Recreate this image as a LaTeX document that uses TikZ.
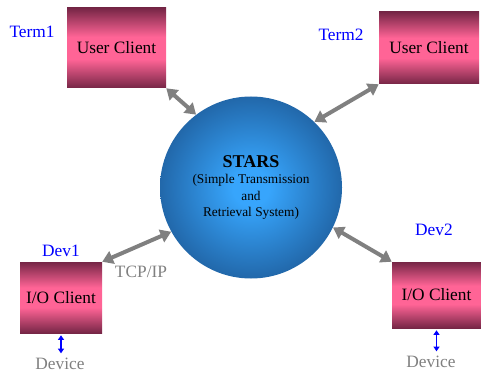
\documentclass[tikz,border=0pt]{standalone}
\usepackage{fontspec}
\setmainfont{Liberation Serif}
\usepackage{xcolor}
\usetikzlibrary{arrows.meta,positioning}

\definecolor{boxdark}{RGB}{118,38,70}
\definecolor{boxpink}{RGB}{255,100,150}
\definecolor{starsin}{RGB}{55,165,252}
\definecolor{starsout}{RGB}{22,70,125}
\definecolor{linkgray}{RGB}{128,128,128}

\pgfdeclareverticalshading{clientshade}{100bp}{color(0bp)=(boxdark); color(25bp)=(boxdark);
  color(43bp)=(boxpink); color(57bp)=(boxpink); color(75bp)=(boxdark); color(100bp)=(boxdark)}
\pgfdeclareradialshading{starsshade}{\pgfpoint{0bp}{0bp}}{color(0bp)=(starsin); color(5bp)=(starsin);
  color(36bp)=(starsout); color(50bp)=(starsout)}

\tikzset{
  client/.style={rectangle,shading=clientshade,
    inner sep=0pt,font=\fontsize{13}{15}\selectfont},
  hostname/.style={text=blue,font=\fontsize{13}{15}\selectfont},
  graylabel/.style={text=linkgray,font=\fontsize{13}{15}\selectfont},
  link/.style={line width=3pt,linkgray,{Triangle[length=8pt,width=10pt]}-{Triangle[length=8pt,width=10pt]}},
  devlink/.style={line width=1pt,blue,{Triangle[length=3.5pt,width=4.5pt]}-{Triangle[length=3.5pt,width=4.5pt]},shorten <=1.5pt}
}

\begin{document}
\begin{tikzpicture}[x=0.75pt,y=-0.75pt]
\useasboundingbox (0,0) rectangle (481,374);
% the server
\node[circle,shading=starsshade,minimum size=136.5pt,inner sep=0pt,
  align=center,font=\fontsize{10}{12.4}\selectfont] (stars) at (251,187.5)
  {{\fontsize{13.5}{16}\selectfont\bfseries STARS}\\(Simple Transmission\\and\\Retrieval System)};
% clients
\node[client,minimum width=74.25pt,minimum height=60pt] (t1) at (116.5,48) {User Client};
\node[client,minimum width=75pt,minimum height=54pt] (t2) at (429,48) {User Client};
\node[client,minimum width=61.5pt,minimum height=53.25pt] (d1) at (61,297.5) {I/O Client};
\node[client,minimum width=66.75pt,minimum height=49.5pt] (d2) at (436.5,295) {I/O Client};
% names
\node[hostname] (t1name) at (32,32) {Term1};
\node[hostname] (t2name) at (341,35) {Term2};
\node[hostname] (d1name) at (61,251) {Dev1};
\node[hostname] (d2name) at (434,230) {Dev2};
\node[graylabel] (tcp) at (141,272) {TCP/IP};
\node[graylabel,anchor=base] (dv1) at (60,369.5) {Device};
\node[graylabel,anchor=base] (dv2) at (431,367.5) {Device};
% connections
\draw[link] (t1.south east) -- (stars.127);
\draw[link] (t2.south west) -- (stars.46);
\draw[link] (d1.north east) -- (stars.209);
\draw[link] (d2.north west) -- (stars.334);
\draw[devlink] (d1.south) -- (d1.south |- dv1.north);
\draw[devlink] (d2.south) -- (d2.south |- dv2.north);
\end{tikzpicture}
\end{document}
